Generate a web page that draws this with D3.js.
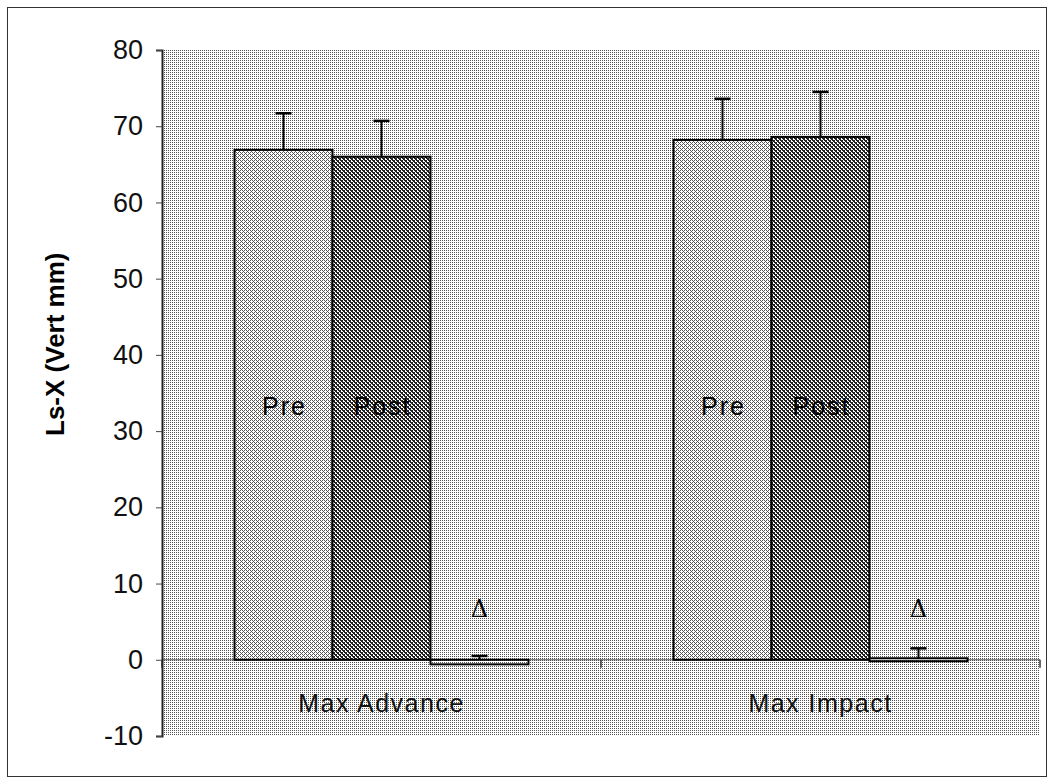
<!DOCTYPE html>
<html>
<head>
<meta charset="utf-8">
<script src="https://cdn.jsdelivr.net/npm/d3@7"></script>
<style>
  html, body { margin: 0; padding: 0; background: #fff; }
  svg { display: block; font-family: Arial, "Liberation Sans", sans-serif; }
</style>
</head>
<body>
<svg id="chart" width="1047" height="778"></svg>
<script>
// ---- data ----
const categories = ["Max Advance", "Max Impact"];
const seriesNames = ["Pre", "Post", "Δ"];
const preValues = [66.9, 68.2];
const postValues = [66.0, 68.6];
const deltaValues = [-0.6, 0.2];
const preErrors = [4.8, 5.4];
const postErrors = [4.7, 5.9];
const deltaErrors = [1.1, 1.3];
const yTicks = [-10, 0, 10, 20, 30, 40, 50, 60, 70, 80];
const yTitle = "Ls-X (Vert mm)";

const svg = d3.select("#chart");
const margin = { left: 162, top: 50 };
const plotW = 1040 - margin.left, plotH = 736 - margin.top;

// halftone patterns
const defs = svg.append("defs");
function pat(id, size, bg, dots, color) {
  const p = defs.append("pattern").attr("id", id).attr("patternUnits", "userSpaceOnUse")
    .attr("width", size).attr("height", size);
  p.append("rect").attr("width", size).attr("height", size).attr("fill", bg);
  dots.forEach(([x, y]) => p.append("rect").attr("x", x).attr("y", y).attr("width", 1).attr("height", 1).attr("fill", color));
}
pat("bgPat", 4, "#ffffff", [[0,0],[2,2],[2,0],[0,2]], "#555");
pat("prePat", 4, "#ffffff", [[0,0],[2,2],[1,1],[3,3],[2,0],[0,2]], "#555");
pat("postPat", 4, "#ffffff", [[0,0],[1,1],[2,2],[3,3],[1,0],[2,1],[3,2],[0,3],[2,0],[0,2]], "#222");

// outer frame
svg.append("rect").attr("x", 7.5).attr("y", 7.5).attr("width", 1039).attr("height", 769)
  .attr("fill", "none").attr("stroke", "#333").attr("stroke-width", 1);

const g = svg.append("g").attr("transform", `translate(${margin.left},${margin.top})`);

const y = d3.scaleLinear().domain([-10, 80]).range([plotH, 0]);
const x0 = d3.scaleBand().domain(categories).range([0, plotW]).paddingInner(0).paddingOuter(0);
const x1 = d3.scaleBand().domain(seriesNames).range([0, 294]);

// plot background
g.append("rect").attr("x", 0).attr("y", 0).attr("width", plotW).attr("height", plotH)
  .attr("fill", "url(#bgPat)");

// zero line / category axis
g.append("line").attr("x1", 0).attr("x2", plotW).attr("y1", y(0)).attr("y2", y(0))
  .attr("stroke", "#555").attr("stroke-width", 1);
const catTicks = [0, x0.bandwidth(), plotW];
g.selectAll(".ctick").data(catTicks).enter().append("line")
  .attr("x1", d => d).attr("x2", d => d).attr("y1", y(0)).attr("y2", y(0) + 8)
  .attr("stroke", "#333").attr("stroke-width", 1.5);

// y axis
const yAxis = d3.axisLeft(y).tickValues(yTicks).tickSize(6).tickPadding(13)
  .tickFormat(d => String(d));
const ya = g.append("g").call(yAxis);
ya.attr("font-size", null).attr("font-family", null);
ya.select(".domain").attr("stroke", "#222").attr("stroke-width", 2);
ya.selectAll(".tick line").attr("stroke", "#444");
ya.selectAll(".tick text").attr("font-size", 27).attr("fill", "#111")
  .attr("font-family", "Arial, 'Liberation Sans', sans-serif");

// bars
const rows = categories.map((c, i) => [
  { cat: c, s: "Pre", v: preValues[i], e: preErrors[i], fill: "url(#prePat)" },
  { cat: c, s: "Post", v: postValues[i], e: postErrors[i], fill: "url(#postPat)" },
  { cat: c, s: "Δ", v: deltaValues[i], e: deltaErrors[i], fill: "url(#bgPat)" }
]).flat();

const groupOffset = (x0.bandwidth() - 294) / 2;
const bx = d => x0(d.cat) + groupOffset + x1(d.s);

g.selectAll(".bar").data(rows).enter().append("rect")
  .attr("x", bx).attr("width", x1.bandwidth())
  .attr("y", d => y(Math.max(0, d.v)))
  .attr("height", d => Math.max(3, Math.abs(y(d.v) - y(0))))
  .attr("fill", d => d.fill).attr("stroke", "#000").attr("stroke-width", 2);

// error bars (plus direction)
const eb = g.selectAll(".err").data(rows).enter().append("g");
eb.append("line")
  .attr("x1", d => bx(d) + x1.bandwidth() / 2).attr("x2", d => bx(d) + x1.bandwidth() / 2)
  .attr("y1", d => y(Math.max(0, d.v))).attr("y2", d => y(d.v + d.e))
  .attr("stroke", "#000").attr("stroke-width", 2);
eb.append("line")
  .attr("x1", d => bx(d) + x1.bandwidth() / 2 - 8).attr("x2", d => bx(d) + x1.bandwidth() / 2 + 8)
  .attr("y1", d => y(d.v + d.e)).attr("y2", d => y(d.v + d.e))
  .attr("stroke", "#000").attr("stroke-width", 2.5);

// in-bar labels
g.selectAll(".lbl").data(rows).enter().append("text")
  .attr("x", d => bx(d) + x1.bandwidth() / 2 + (d.s === "Δ" ? 0 : 1))
  .attr("y", d => d.s === "Δ" ? y(6.5) : y(33.0))
  .attr("text-anchor", "middle").attr("dominant-baseline", "middle")
  .attr("font-size", d => d.s === "Δ" ? 24 : 25)
  .attr("letter-spacing", d => d.s === "Δ" ? 0 : 2)
  .attr("font-family", d => d.s === "Δ" ? "'DejaVu Serif', 'Liberation Serif', serif" : "Arial, 'Liberation Sans', sans-serif")
  .attr("fill", "#000")
  .text(d => d.s);

// category labels
g.selectAll(".cat").data(categories).enter().append("text")
  .attr("x", d => x0(d) + x0.bandwidth() / 2).attr("y", y(-6.0))
  .attr("text-anchor", "middle").attr("dominant-baseline", "middle")
  .attr("font-size", 25).attr("letter-spacing", 1.5).attr("fill", "#111").text(d => d);

// y title
svg.append("text")
  .attr("transform", `translate(57, ${margin.top + y(41.4)}) rotate(-90)`)
  .attr("text-anchor", "middle").attr("dominant-baseline", "middle")
  .attr("font-size", 26).attr("font-weight", "bold").attr("fill", "#000")
  .text(yTitle);
</script>
</body>
</html>
